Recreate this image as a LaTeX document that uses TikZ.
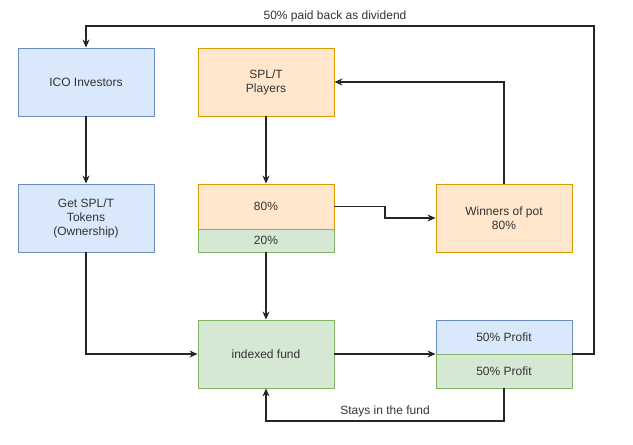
\documentclass[tikz,border=0pt]{standalone}
\usepackage{fontspec}
\setmainfont{Liberation Sans}
\usetikzlibrary{arrows.meta,positioning}
\definecolor{blueFill}{HTML}{DAE8FC}
\definecolor{blueLine}{HTML}{6C8EBF}
\definecolor{orangeFill}{HTML}{FFE6CC}
\definecolor{orangeLine}{HTML}{D79B00}
\definecolor{greenFill}{HTML}{D5E8D4}
\definecolor{greenLine}{HTML}{82B366}
\tikzset{
  box/.style={draw, line width=0.9pt, minimum width=136pt, minimum height=68pt,
    inner sep=0pt, align=center, text=black!80, font=\fontsize{12}{14}\selectfont},
  blueBox/.style={box, fill=blueFill, draw=blueLine},     % investor side
  orangeBox/.style={box, fill=orangeFill, draw=orangeLine}, % player side
  greenBox/.style={box, fill=greenFill, draw=greenLine},  % fund side
  flow/.style={-{Stealth[length=8pt,width=7pt]}, line width=1.1pt, black!85},
  lbl/.style={text=black!80, font=\fontsize{12}{14}\selectfont, inner sep=1pt}
}

\begin{document}
\begin{tikzpicture}[x=1pt,y=-1pt]
  \useasboundingbox (0,0) rectangle (633,445);
  % left column
  \node[blueBox] (ico) at (86,82) {ICO Investors};
  \node[blueBox] (tokens) at (86,218) {Get SPL/T\\Tokens\\(Ownership)};
  % middle column
  \node[orangeBox] (players) at (266,82) {SPL/T\\Players};
  \node[orangeBox, minimum height=45pt] (pot80) at (266,206.5) {80\%};
  \node[greenBox, minimum height=23pt] (pot20) at (266,240.5) {20\%};
  \node[greenBox] (fund) at (266,354) {indexed fund};
  % right column
  \node[orangeBox] (winners) at (504,218) {Winners of pot\\80\%};
  \node[blueBox, minimum height=34pt] (profitA) at (504,337) {50\% Profit};
  \node[greenBox, minimum height=34pt] (profitB) at (504,371) {50\% Profit};
  % turning points
  \coordinate (jog) at (385,206.5);
  \coordinate (divR) at (594,26);
  \coordinate (stayB) at (504,421);
  % connectors
  \draw[flow] (ico) -- (tokens);
  \draw[flow] (players) -- (pot80);
  \draw[flow] (pot80.east) -- (jog) |- (winners.west);
  \draw[flow] (winners.north) |- (players.east);
  \draw[flow] (pot20.south) -- (fund.north);
  \draw[flow] (tokens.south) |- (fund.west);
  \draw[flow] (fund.east) -- (fund.east -| profitB.west);
  \draw[flow] (profitA.east |- fund.east) -| (divR) -| (ico.north);
  \draw[flow] (profitB.south) -- (stayB) -| (fund.south);
  % labels
  \node[lbl] (divText) at (335,16) {50\% paid back as dividend};
  \node[lbl] (stayText) at (385,411) {Stays in the fund};
\end{tikzpicture}
\end{document}
